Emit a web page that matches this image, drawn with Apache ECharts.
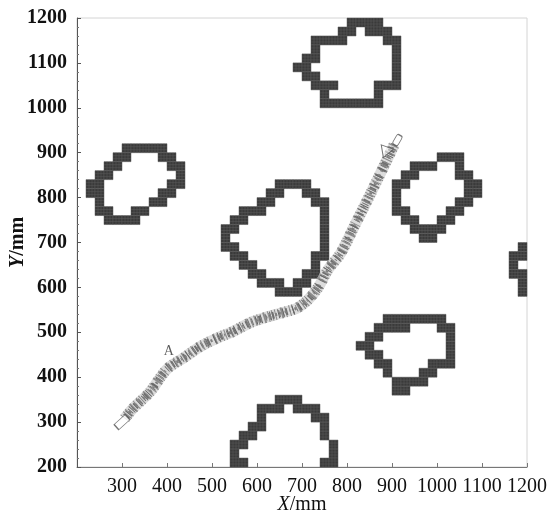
<!DOCTYPE html>
<html>
<head>
<meta charset="utf-8">
<script src="https://cdn.jsdelivr.net/npm/echarts@6/dist/echarts.min.js"></script>
<style>
html, body { margin: 0; padding: 0; background: #fff; }
#main { width: 551px; height: 516px; }
</style>
</head>
<body>
<div id="main"></div>
<script>
var FONT = "'Liberation Serif', 'Times New Roman', serif"
var cellSize = 20

// obstacle outlines as grid-cell runs: [row y, first cell x, last cell x]
var obstacleLeft = [
  [900, 300, 380], [880, 280, 300], [880, 380, 400], [860, 260, 280], [860, 400, 420],
  [840, 240, 260], [840, 420, 420], [820, 220, 240], [820, 400, 420], [800, 220, 240],
  [800, 380, 400], [780, 240, 240], [780, 360, 380], [760, 240, 260], [760, 320, 340],
  [740, 260, 320]
]
var obstacleTop = [
  [1180, 800, 860], [1160, 780, 800], [1160, 840, 880], [1140, 720, 780], [1140, 880, 900],
  [1120, 720, 720], [1120, 900, 900], [1100, 700, 720], [1100, 900, 900], [1080, 680, 700],
  [1080, 900, 900], [1060, 700, 720], [1060, 900, 900], [1040, 720, 760], [1040, 860, 900],
  [1020, 740, 740], [1020, 860, 860], [1000, 740, 860]
]
var obstacleMid = [
  [820, 640, 700], [800, 620, 640], [800, 700, 720], [780, 600, 620], [780, 720, 740],
  [760, 560, 600], [760, 740, 740], [740, 540, 560], [740, 740, 740], [720, 520, 540],
  [720, 740, 740], [700, 520, 520], [700, 740, 740], [680, 520, 540], [680, 740, 740],
  [660, 540, 560], [660, 720, 740], [640, 560, 580], [640, 720, 720], [620, 580, 600],
  [620, 700, 720], [600, 600, 640], [600, 680, 700], [580, 640, 680]
]
var obstacleRight = [
  [880, 1000, 1040], [860, 940, 980], [860, 1040, 1040], [840, 920, 940], [840, 1040, 1060],
  [820, 900, 920], [820, 1060, 1080], [800, 900, 900], [800, 1060, 1080], [780, 900, 900],
  [780, 1040, 1060], [760, 900, 920], [760, 1020, 1040], [740, 920, 940], [740, 1000, 1020],
  [720, 940, 1000], [700, 960, 980]
]
var obstacleLow = [
  [520, 880, 1000], [500, 860, 920], [500, 1000, 1020], [480, 840, 860], [480, 1020, 1020],
  [460, 820, 840], [460, 1020, 1020], [440, 840, 860], [440, 1020, 1020], [420, 860, 880],
  [420, 980, 1020], [400, 880, 880], [400, 960, 980], [380, 900, 960], [360, 900, 920]
]
var obstacleBottom = [
  [340, 640, 680], [320, 600, 640], [320, 680, 720], [300, 600, 600], [300, 720, 740],
  [280, 580, 600], [280, 740, 740], [260, 560, 580], [260, 740, 740], [240, 540, 560],
  [240, 760, 760], [220, 540, 540], [220, 760, 760], [200, 540, 560], [200, 740, 760]
]
var obstacleEdge = [
  [680, 1180, 1180], [660, 1160, 1180], [640, 1160, 1160], [620, 1160, 1180], [600, 1180, 1180],
  [580, 1180, 1180]
]

// robot trajectory centre line
var pathX = [306, 324, 362, 400, 440, 473, 511, 547, 584, 622, 658, 689, 713, 736, 758, 786, 818, 851, 884, 905]
var pathY = [308, 330, 367, 418, 445, 468, 487, 502, 521, 534, 544, 554, 572, 600, 640, 676, 740, 806, 874, 918]

var startPose = [300, 300]
var goalTriangle = [884, 908]
var goalMark = [912, 928]
var labelA = ['A', 404, 458]

var cells = []
;[obstacleLeft, obstacleTop, obstacleMid, obstacleRight, obstacleLow, obstacleBottom, obstacleEdge]
  .forEach(function (obs) {
    obs.forEach(function (r) {
      for (var x = r[1]; x <= r[2]; x += cellSize) cells.push([x, r[0]])
    })
  })

var path = pathX.map(function (x, i) { return [x, pathY[i]] })

function renderCell(params, api) {
  var p0 = api.coord([api.value(0), api.value(1) + cellSize])
  var p1 = api.coord([api.value(0) + cellSize, api.value(1)])
  var w = p1[0] - p0[0]
  var h = p1[1] - p0[1]
  var n = 3
  var children = [{
    type: 'rect',
    shape: { x: p0[0], y: p0[1], width: w, height: h },
    style: { fill: '#3a3a3a', stroke: '#5a5a5a', lineWidth: 0.5 }
  }]
  for (var i = 1; i < n; i++) {
    children.push({
      type: 'line',
      shape: { x1: p0[0] + i * w / n, y1: p0[1], x2: p0[0] + i * w / n, y2: p1[1] },
      style: { stroke: '#5c5c5c', lineWidth: 0.5 }
    })
    children.push({
      type: 'line',
      shape: { x1: p0[0], y1: p0[1] + i * h / n, x2: p1[0], y2: p0[1] + i * h / n },
      style: { stroke: '#5c5c5c', lineWidth: 0.5 }
    })
  }
  return { type: 'group', children: children }
}

function bandLayer(width, color, dash, offset) {
  return {
    type: 'line',
    data: path,
    smooth: 0.3,
    showSymbol: false,
    silent: true,
    z: 3,
    lineStyle: { width: width, color: color, type: dash, dashOffset: offset || 0, cap: 'butt' }
  }
}

function plainNumber(v) {
  return String(v)
}

var chart = echarts.init(document.getElementById('main'))

var option = {
  animation: false,
  backgroundColor: '#fff',
  grid: {
    left: 77,
    right: 24,
    top: 18,
    bottom: 49,
    outerBoundsMode: 'none',
    containLabel: false,
    show: true,
    borderColor: '#d4d4d4',
    borderWidth: 1
  },
  xAxis: {
    type: 'value',
    min: 200,
    max: 1200,
    interval: 100,
    splitLine: { show: false },
    axisLine: { lineStyle: { color: '#777', width: 1 } },
    axisTick: { inside: true, length: 4, lineStyle: { color: '#777' } },
    axisLabel: {
      showMinLabel: false,
      showMaxLabel: true,
      hideOverlap: false,
      formatter: plainNumber,
      fontFamily: FONT,
      fontSize: 20,
      color: '#111',
      margin: 10
    },
    name: '{i|X}/mm',
    nameLocation: 'middle',
    nameGap: 28,
    nameMoveOverlap: false,
    nameTextStyle: {
      fontFamily: FONT,
      fontSize: 20,
      color: '#111',
      rich: { i: { fontFamily: FONT, fontSize: 20, fontStyle: 'italic', color: '#111' } }
    }
  },
  yAxis: {
    type: 'value',
    min: 200,
    max: 1200,
    interval: 100,
    splitLine: { show: false },
    axisLine: { lineStyle: { color: '#555', width: 1 } },
    axisTick: { inside: true, length: 4, lineStyle: { color: '#555' } },
    minorTick: { show: true, splitNumber: 5, length: 2, lineStyle: { color: '#777' } },
    axisLabel: {
      formatter: plainNumber,
      fontFamily: FONT,
      fontSize: 20,
      fontWeight: 'bold',
      color: '#111',
      margin: 10
    },
    name: '{i|Y}/mm',
    nameLocation: 'middle',
    nameGap: 49,
    nameRotate: 90,
    nameMoveOverlap: false,
    nameTextStyle: {
      fontFamily: FONT,
      fontSize: 20,
      fontWeight: 'bold',
      color: '#111',
      rich: { i: { fontFamily: FONT, fontSize: 20, fontWeight: 'bold', fontStyle: 'italic', color: '#111' } }
    }
  },
  series: [
    {
      type: 'custom',
      renderItem: renderCell,
      data: cells,
      silent: true,
      z: 2
    },
    bandLayer(11, 'rgba(205,205,205,0.7)', 'solid'),
    bandLayer(11, '#8c8c8c', [1, 3, 1, 2, 1, 5, 2, 3], 0),
    bandLayer(7, '#707070', [1, 2, 2, 5, 1, 3], 1),
    bandLayer(9, '#666', [1, 7, 1, 4, 1, 9], 2),
    bandLayer(3, '#808080', [2, 3, 1, 4], 3),
    {
      type: 'scatter',
      data: [startPose],
      symbol: 'rect',
      symbolSize: [15, 7],
      symbolRotate: 42,
      itemStyle: { color: '#fff', borderColor: '#555', borderWidth: 1 },
      silent: true,
      z: 5
    },
    {
      type: 'scatter',
      data: [goalTriangle],
      symbol: 'triangle',
      symbolSize: [13, 11],
      symbolRotate: 40,
      itemStyle: { color: 'rgba(255,255,255,0.6)', borderColor: '#555', borderWidth: 1 },
      silent: true,
      z: 5
    },
    {
      type: 'scatter',
      data: [goalMark],
      symbol: 'roundRect',
      symbolSize: [11, 6],
      symbolRotate: 60,
      itemStyle: { color: 'rgba(255,255,255,0.6)', borderColor: '#555', borderWidth: 1 },
      silent: true,
      z: 5
    },
    {
      type: 'scatter',
      data: [[labelA[1], labelA[2]]],
      symbolSize: 0,
      silent: true,
      label: {
        show: true,
        position: 'inside',
        formatter: labelA[0],
        fontFamily: FONT,
        fontSize: 14,
        color: '#333'
      },
      z: 6
    }
  ]
}

chart.setOption(option)
</script>
</body>
</html>
